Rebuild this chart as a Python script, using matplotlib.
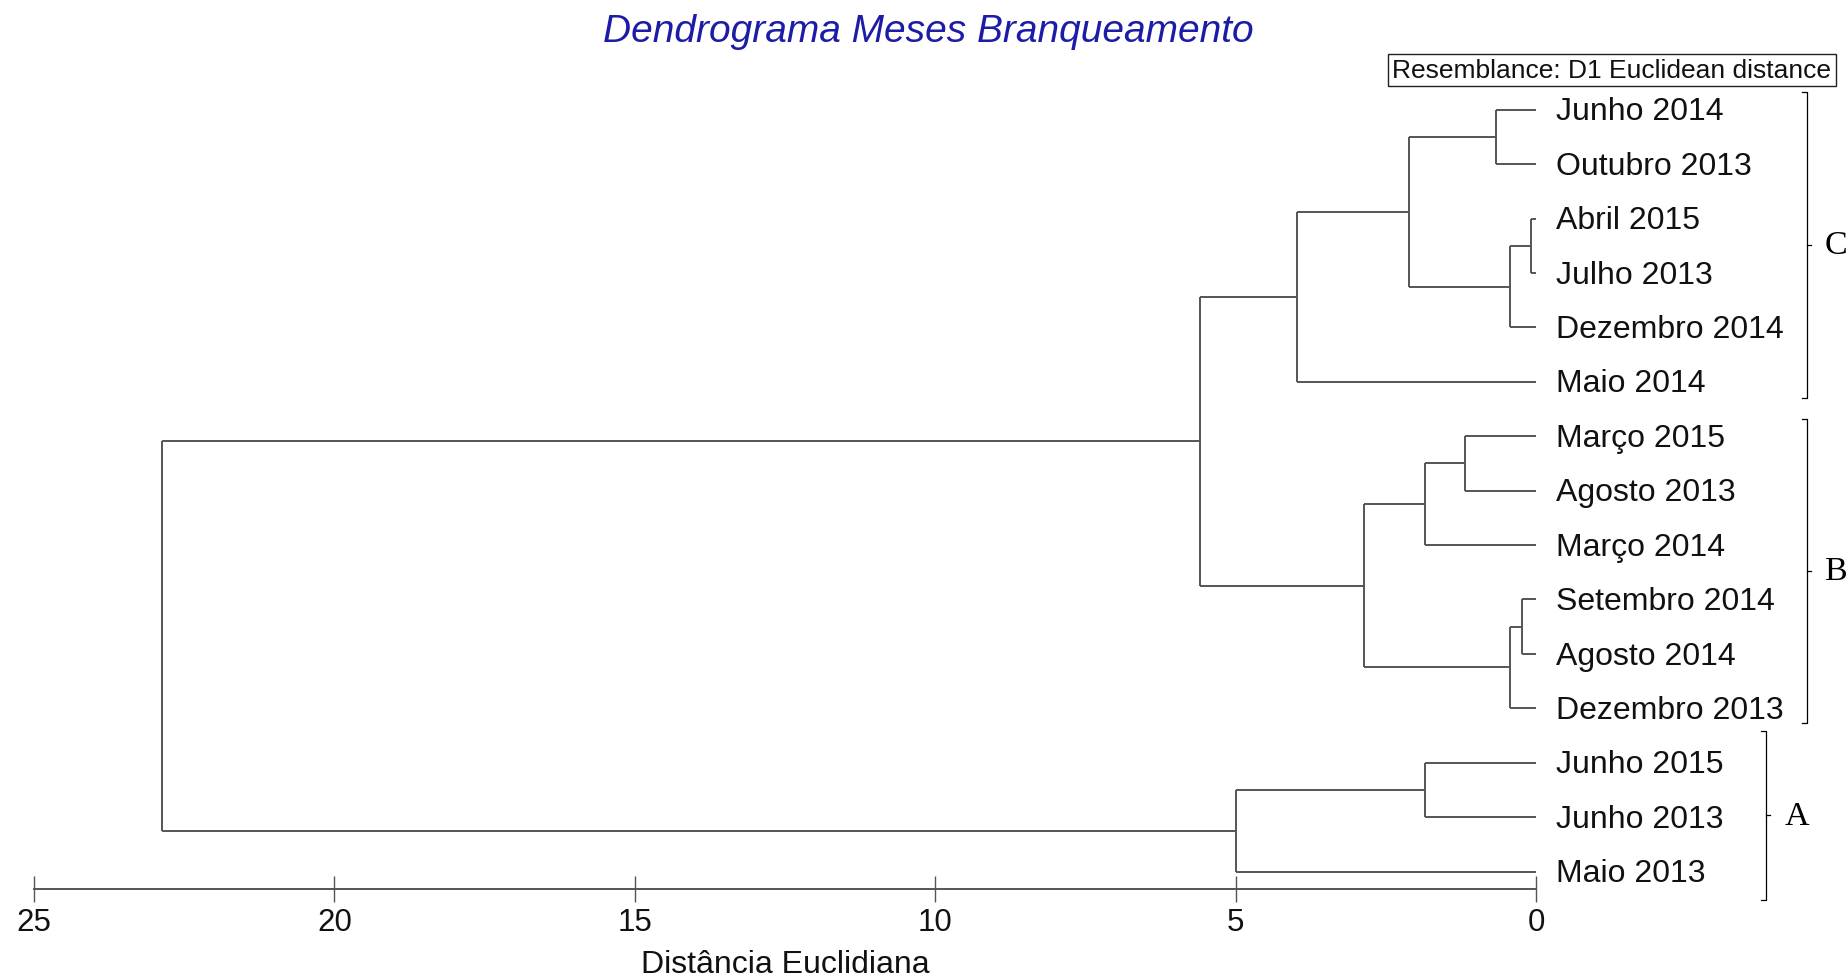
import matplotlib
matplotlib.use("Agg")
import matplotlib.pyplot as plt
import numpy as np

# ---------------- data ----------------
leaf_labels = ["Junho 2014", "Outubro 2013", "Abril 2015", "Julho 2013",
               "Dezembro 2014", "Maio 2014", "Março 2015", "Agosto 2013",
               "Março 2014", "Setembro 2014", "Agosto 2014", "Dezembro 2013",
               "Junho 2015", "Junho 2013", "Maio 2013"]
# linkage-like merges: ids < 15 are leaves (display order), ids >= 15 are clusters
merge_left = [2, 9, 15, 16, 0, 6, 12, 20, 19, 22, 23, 21, 25, 27]
merge_right = [3, 10, 4, 11, 1, 7, 13, 8, 17, 18, 5, 14, 24, 26]
merge_height = [0.08, 0.24, 0.43, 0.43, 0.67, 1.18, 1.84, 1.84, 2.12, 2.86,
                3.98, 5.00, 5.60, 22.87]
x_ticks = [25, 20, 15, 10, 5, 0]
group_labels = ["C", "B", "A"]
group_first = [0, 6, 12]
group_last = [5, 11, 14]

title = "Dendrograma Meses Branqueamento"
x_label = "Distância Euclidiana"
legend_text = "Resemblance: D1 Euclidean distance"

# ---------------- figure ----------------
W, H = 1849, 978
fig = plt.figure(figsize=(W / 100, H / 100), dpi=100)
fig.patch.set_facecolor("white")

n = len(leaf_labels)
ax_left = 34 / W
ax_width = (1536 - 34) / W
ax_bottom = (H - 890) / H
ax_height = (890 - 78) / H
ax = fig.add_axes([ax_left, ax_bottom, ax_width, ax_height])
ax.set_xlim(25, 0)
ax.set_ylim(-0.32, 14.6)

line_col = "#555555"
lw = 1.4
txt_col = "#111111"

# leaf y positions (top row has highest value)
ypos = {i: float(n - 1 - i) for i in range(n)}
hpos = {i: 0.0 for i in range(n)}
for k, (a, b, h) in enumerate(zip(merge_left, merge_right, merge_height)):
    cid = n + k
    ya, yb = ypos[a], ypos[b]
    ax.plot([h, h], [ya, yb], color=line_col, lw=lw, solid_capstyle="butt")
    ax.plot([hpos[a], h], [ya, ya], color=line_col, lw=lw, solid_capstyle="butt")
    ax.plot([hpos[b], h], [yb, yb], color=line_col, lw=lw, solid_capstyle="butt")
    ypos[cid] = (ya + yb) / 2
    hpos[cid] = h

# leaf labels
for i, lab in enumerate(leaf_labels):
    ax.text(-0.33, ypos[i] - 0.03, lab, ha="left", va="center", fontsize=23,
            family="Liberation Sans", color=txt_col, clip_on=False)

# group brackets
bracket_style = {"C": (-4.51, 0.33, 0.30), "B": (-4.51, 0.32, 0.27),
                 "A": (-3.83, 0.59, 0.52)}
for g, f, l in zip(group_labels, group_first, group_last):
    bx, mt, mb = bracket_style[g]
    top = ypos[f] + mt
    bot = ypos[l] - mb
    mid = (top + bot) / 2
    hook = 0.09
    ax.plot([bx + hook, bx, bx, bx + hook], [top, top, bot, bot], color="black",
            lw=0.9, clip_on=False)
    ax.plot([bx, bx - 0.07], [mid, mid], color="black", lw=0.9, clip_on=False)
    ax.text(bx - 0.30, mid, g, ha="left", va="center", fontsize=24.5,
            family="Liberation Serif", color="black", clip_on=False)

# axis styling
for s in ["left", "right", "top"]:
    ax.spines[s].set_visible(False)
ax.spines["bottom"].set_color(line_col)
ax.spines["bottom"].set_linewidth(lw)
ax.set_yticks([])
ax.set_xticks(x_ticks)
ax.set_xticklabels([str(t) for t in x_ticks], family="Liberation Sans",
                   fontsize=22.5, color=txt_col)
ax.tick_params(axis="x", direction="inout", length=18.5, width=1.0,
               color=line_col, pad=4)
ax.set_xlabel(x_label, family="Liberation Sans", fontsize=23, color=txt_col,
              labelpad=8)
ax.patch.set_alpha(0)

# title
fig.text(928 / W, 1 - 32 / H, title, ha="center", va="center", fontsize=28,
         family="Liberation Sans", style="italic", color="#1c1ca6")

# resemblance box
fig.text(1612 / W, 1 - 71 / H, legend_text, ha="center", va="center",
         fontsize=19, family="Liberation Sans", color=txt_col,
         bbox=dict(boxstyle="square,pad=0.17", facecolor="white",
                   edgecolor="#202020", linewidth=1.0))

fig.savefig("out.png", dpi=100, facecolor="white")
